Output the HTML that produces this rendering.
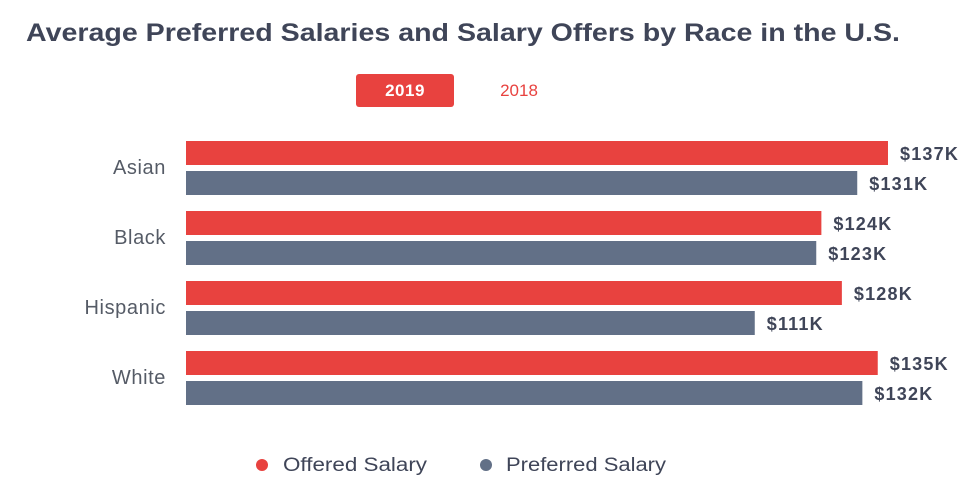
<!DOCTYPE html>
<html><head><meta charset="utf-8">
<style>
body{margin:0;background:#fff;width:965px;height:497px;overflow:hidden;font-family:"Liberation Sans",sans-serif;}
</style></head>
<body>
<svg width="965" height="497" xmlns="http://www.w3.org/2000/svg">
<text x="26" y="41" font-size="25" font-weight="bold" fill="#3f4558" textLength="874" lengthAdjust="spacingAndGlyphs">Average Preferred Salaries and Salary Offers by Race in the U.S.</text>
<g>
<rect x="356" y="74" width="98" height="33" rx="3" fill="#e8423f"/>
<text x="405" y="96" font-size="17" font-weight="bold" fill="#fff" text-anchor="middle" letter-spacing="0.5">2019</text>
</g>
<text x="519" y="96" font-size="17" fill="#e8423f" text-anchor="middle">2018</text>
<g id="bars"></g>
<g>
<circle cx="262" cy="465" r="6" fill="#e8423f"/>
<text x="283" y="471" font-size="19" fill="#3f4558" textLength="144" lengthAdjust="spacingAndGlyphs">Offered Salary</text>
<circle cx="486" cy="465" r="6" fill="#627087"/>
<text x="506" y="471" font-size="19" fill="#3f4558" textLength="160" lengthAdjust="spacingAndGlyphs">Preferred Salary</text>
</g>
</svg>
<script>
const categories=["Asian","Black","Hispanic","White"];
const offered=[137,124,128,135];
const preferred=[131,123,111,132];
const x0=186, pxPerK=5.124, top0=141, groupStep=70, barH=24, gap=30;
const xs=v=>x0+v*pxPerK;
const g=document.getElementById('bars');
const NS="http://www.w3.org/2000/svg";
function mk(tag,attrs,txt){const e=document.createElementNS(NS,tag);for(const k in attrs)e.setAttribute(k,attrs[k]);if(txt!==undefined)e.textContent=txt;g.appendChild(e);return e;}
categories.forEach((c,i)=>{
  const y=top0+i*groupStep;
  const l=mk('text',{x:166,y:y+33,'font-size':20,'letter-spacing':0.6,fill:'#555b66','text-anchor':'end'},c);
  
  
  [[offered[i],'#e8423f',0,'offered'],[preferred[i],'#627087',gap,'preferred']].forEach(([v,col,dy,nm])=>{
    const r=mk('rect',{x:x0,y:y+dy,width:xs(v)-x0,height:barH,fill:col});
    
    
    const t=mk('text',{x:xs(v)+12,y:y+dy+19,'font-size':18,'font-weight':'bold','letter-spacing':1.2,fill:'#3f4558'},'$'+v+'K');
    
    
  });
});
</script>
</body></html>
